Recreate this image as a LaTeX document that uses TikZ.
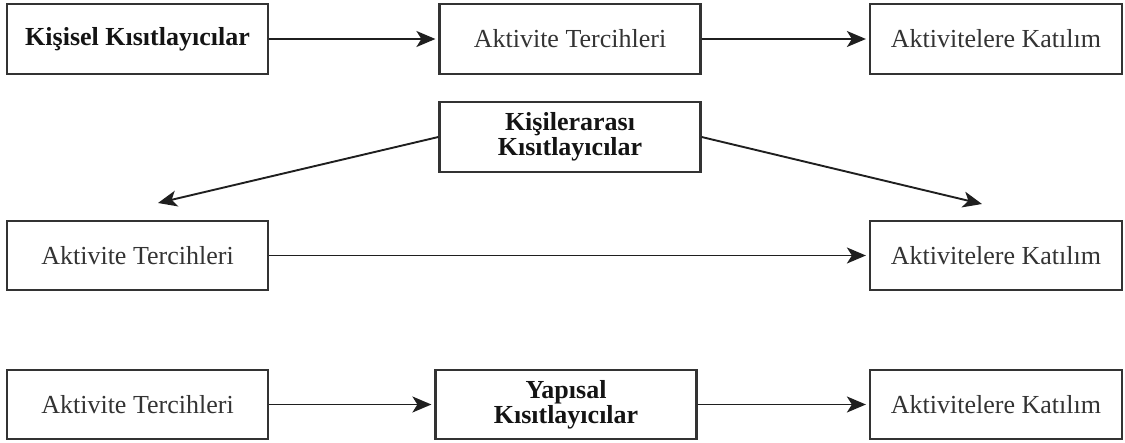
\documentclass[tikz,border=0pt]{standalone}
\usepackage{fontspec}
\setmainfont{Liberation Serif}
\usetikzlibrary{arrows.meta}
\tikzset{
  box/.style={draw=black!80, line width=2.2pt, rectangle, minimum width=261pt, minimum height=70pt,
    inner sep=0pt, align=center, text=black!80, font=\fontsize{26}{25}\selectfont},
  boldbox/.style={box, text=black!92, font=\fontsize{26}{25}\selectfont\bfseries},
  conn/.style={draw=black!88, line width=1.9pt, -{Stealth[length=19pt,width=16pt,inset=5pt]}, shorten >=3pt}
}
\begin{document}
\begin{tikzpicture}[x=1pt,y=-1pt]
\useasboundingbox (0,0) rectangle (1125,443);
% row 1
\node[boldbox] (k1) at (137.5,39) {Kişisel Kısıtlayıcılar};
\node[box] (t1) at (570,39) {Aktivite Tercihleri};
\node[box, minimum width=252pt] (a1) at (996,39) {Aktivitelere Katılım};
\draw[conn] (k1) -- (t1);
\draw[conn] (t1) -- (a1);
% row 2
\node[boldbox] (k2) at (570,137) {Kişilerarası\\Kısıtlayıcılar};
\node[box, minimum height=69pt] (t2) at (137.5,255.5) {Aktivite Tercihleri};
\node[box, minimum width=252pt, minimum height=69pt] (a2) at (996,255.5) {Aktivitelere Katılım};
\coordinate (dl) at (158,203);
\coordinate (dr) at (982,204);
\draw[conn, shorten >=0pt] (k2.west) -- (dl);
\draw[conn, shorten >=0pt] (k2.east) -- (dr);
\draw[conn] (t2) -- (a2);
% row 3
\node[box, minimum height=69pt] (t3) at (137.5,404.5) {Aktivite Tercihleri};
\node[boldbox, minimum height=69pt] (k3) at (566,404.5) {Yapısal\\Kısıtlayıcılar};
\node[box, minimum width=252pt, minimum height=69pt] (a3) at (996,404.5) {Aktivitelere Katılım};
\draw[conn] (t3) -- (k3);
\draw[conn] (k3) -- (a3);
\end{tikzpicture}
\end{document}
